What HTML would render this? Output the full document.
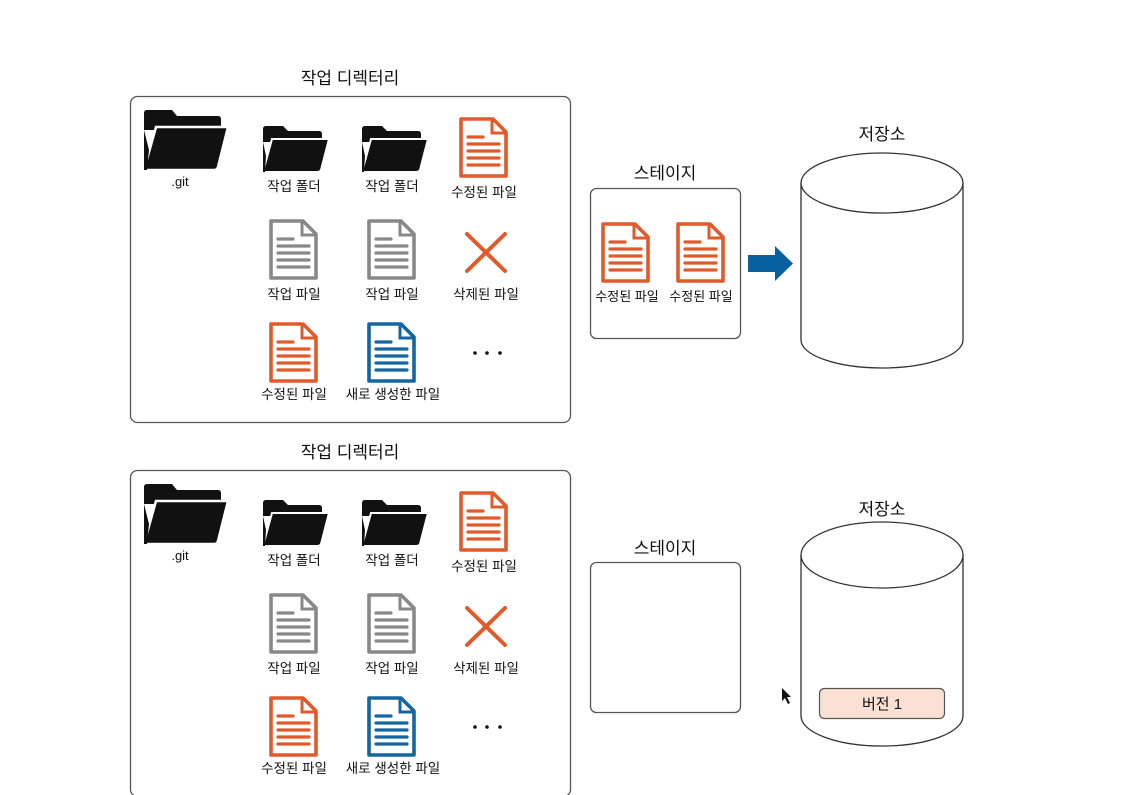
<!DOCTYPE html>
<html><head><meta charset="utf-8"><style>
html,body{margin:0;padding:0;background:#fff;}
svg{display:block;}
text{font-family:"Liberation Sans","Noto Sans CJK KR",sans-serif;fill:#111;}
</style></head><body>
<svg width="1147" height="795" viewBox="0 0 1147 795" xmlns="http://www.w3.org/2000/svg">
<defs>
<g id="bigfolder">
  <path d="M0,60 V3 Q0,0 3,0 H28 L33,6 H74 Q77,6 77,9 V20 H0 Z" fill="#111"/>
  <path d="M12,17 H84 L74,57 Q73,60 70,60 H0 Z" fill="#111" stroke="#fff" stroke-width="2.5"/>
  <path d="M0,20 V60 H3 L5,40 Z" fill="#111"/>
</g>
<g id="folder">
  <path d="M0,46 V3 Q0,0 3,0 H20 L25,5 H56 Q59,5 59,8 V16 H0 Z" fill="#111"/>
  <path d="M9,13 H66 L58,44 Q57,46 54,46 H0 Z" fill="#111" stroke="#fff" stroke-width="2"/>
  <path d="M0,16 V46 H2 L3,30 Z" fill="#111"/>
</g>
<g id="doc">
  <path d="M2,2 H34 L47,15 V59 H2 Z" fill="none" stroke-width="3.6" stroke-linejoin="round"/>
  <path d="M33,3 V16 H46" fill="none" stroke-width="3"/>
  <g stroke-width="3.2" stroke-linecap="round">
    <line x1="9" y1="20" x2="24" y2="20"/>
    <line x1="9" y1="27" x2="40" y2="27"/>
    <line x1="9" y1="34" x2="40" y2="34"/>
    <line x1="9" y1="41" x2="40" y2="41"/>
    <line x1="9" y1="48" x2="40" y2="48"/>
  </g>
</g>
<g id="wd">
  <rect x="130.5" y="96.5" width="440" height="326" rx="7" fill="#fff" stroke="#555" stroke-width="1.3"/>
  <text x="350" y="84" font-size="17" text-anchor="middle">작업 디렉터리</text>
  <use href="#bigfolder" transform="translate(144,110)"/>
  <text x="180" y="186" font-size="13" text-anchor="middle">.git</text>
  <use href="#folder" transform="translate(263,126)"/>
  <use href="#folder" transform="translate(362,126)"/>
  <text x="294" y="191" font-size="13.5" text-anchor="middle">작업 폴더</text>
  <text x="392" y="191" font-size="13.5" text-anchor="middle">작업 폴더</text>
  <use href="#doc" transform="translate(459,117)" stroke="#e05a2b"/>
  <text x="484" y="197" font-size="13.5" text-anchor="middle">수정된 파일</text>
  <use href="#doc" transform="translate(269,219)" stroke="#888"/>
  <use href="#doc" transform="translate(367,219)" stroke="#888"/>
  <g stroke="#e05a2b" stroke-width="4" stroke-linecap="round"><line x1="467" y1="234" x2="505" y2="271"/><line x1="505" y1="234" x2="467" y2="271"/></g>
  <text x="294" y="299" font-size="13.5" text-anchor="middle">작업 파일</text>
  <text x="392" y="299" font-size="13.5" text-anchor="middle">작업 파일</text>
  <text x="486" y="299" font-size="13.5" text-anchor="middle">삭제된 파일</text>
  <use href="#doc" transform="translate(269,322)" stroke="#e05a2b"/>
  <use href="#doc" transform="translate(367,322)" stroke="#1565a0"/>
  <g fill="#111"><circle cx="475" cy="353" r="1.8"/><circle cx="487" cy="353" r="1.8"/><circle cx="500" cy="353" r="1.8"/></g>
  <text x="294" y="399" font-size="13.5" text-anchor="middle">수정된 파일</text>
  <text x="393" y="399" font-size="13.5" text-anchor="middle">새로 생성한 파일</text>
</g>
</defs>

<use href="#wd"/>
<use href="#wd" transform="translate(0,374)"/>

<!-- top stage -->
<text x="665" y="179" font-size="17" text-anchor="middle">스테이지</text>
<rect x="590.5" y="188.5" width="150" height="150" rx="6" fill="#fff" stroke="#555" stroke-width="1.3"/>
<use href="#doc" transform="translate(601,222)" stroke="#e05a2b"/>
<use href="#doc" transform="translate(676,222)" stroke="#e05a2b"/>
<text x="627" y="301" font-size="13" text-anchor="middle">수정된 파일</text>
<text x="701" y="301" font-size="13" text-anchor="middle">수정된 파일</text>
<path d="M748,255 H775 V246 L793,263.5 L775,281 V272 H748 Z" fill="#0860a0"/>

<!-- top repo -->
<text x="882" y="140" font-size="17" text-anchor="middle">저장소</text>
<path d="M801,183 V340 A81,28 0 0 0 963,340 V183" fill="#fff" stroke="#333" stroke-width="1.3"/>
<ellipse cx="882" cy="183" rx="81" ry="30" fill="#fff" stroke="#333" stroke-width="1.3"/>

<!-- bottom stage -->
<text x="665" y="554" font-size="17" text-anchor="middle">스테이지</text>
<rect x="590.5" y="562.5" width="150" height="150" rx="6" fill="#fff" stroke="#555" stroke-width="1.3"/>

<!-- bottom repo -->
<text x="882" y="515" font-size="17" text-anchor="middle">저장소</text>
<path d="M801,555 V716 A81,30 0 0 0 963,716 V555" fill="#fff" stroke="#333" stroke-width="1.3"/>
<ellipse cx="882" cy="555" rx="81" ry="33" fill="#fff" stroke="#333" stroke-width="1.3"/>
<rect x="819.5" y="688.5" width="125" height="30" rx="5" fill="#fbe0d3" stroke="#555" stroke-width="1.2"/>
<text x="882" y="709" font-size="15" text-anchor="middle">버전 1</text>

<path d="M782,688 V701 L785,698 L788,704 L790,703 L787,697 L791,697 Z" fill="#111"/>
</svg>
</body></html>
